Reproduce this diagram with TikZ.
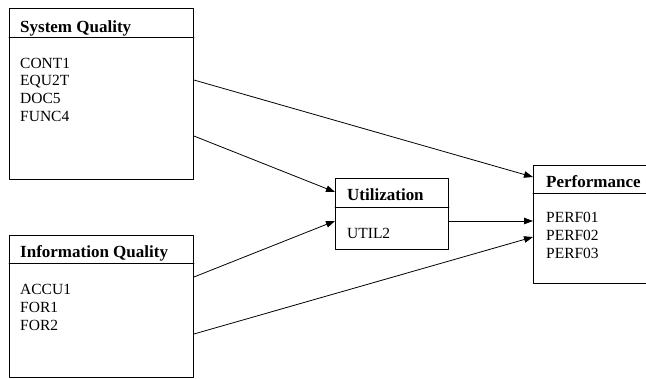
\documentclass[tikz,border=0pt]{standalone}
\usepackage{fontspec}
\setmainfont{Liberation Serif}
\usetikzlibrary{arrows.meta}
\usetikzlibrary{positioning}
\tikzset{blk/.style={draw,line width=0.9pt,inner sep=0pt,anchor=north west},
  hd/.style={anchor=base west,inner sep=0pt,font=\bfseries\fontsize{17}{20}\selectfont},
  items/.style={anchor=base west,inner sep=0pt,align=left,font=\fontsize{15.5}{17.6}\selectfont},
  lnk/.style={->,line width=0.8pt}}
\begin{document}
\begin{tikzpicture}[line cap=round,line join=round,>={Triangle[length=9pt,width=6.5pt]},x=1pt,y=-1pt]
\clip (0,0) rectangle (646,378);
\node[blk,minimum width=184pt,minimum height=171pt] (sq) at (9,8) {};
\node[blk,minimum width=184pt,minimum height=142pt] (iq) at (9,235) {};
\node[blk,minimum width=113pt,minimum height=71pt] (util) at (335,178) {};
\node[blk,minimum width=130pt,minimum height=118pt] (perf) at (533,165) {};
\draw[line width=0.9pt] ([yshift=-29pt]sq.north west) -- ([yshift=-29pt]sq.north east);
\draw[line width=0.9pt] ([yshift=-28pt]iq.north west) -- ([yshift=-28pt]iq.north east);
\draw[line width=0.9pt] ([yshift=-29pt]util.north west) -- ([yshift=-29pt]util.north east);
\draw[line width=0.9pt] ([yshift=-28pt]perf.north west) -- ([yshift=-28pt]perf.north east);
\node[hd] (sqhd) at (20,32) {System Quality};
\node[items] (sqitems) at (20,121) {CONT1\\EQU2T\\DOC5\\FUNC4};
\node[hd] (iqhd) at (20,257) {Information Quality};
\node[items] (iqitems) at (20,330) {ACCU1\\FOR1\\FOR2};
\node[hd] (utilhd) at (347,200) {Utilization};
\node[items] (utilitems) at (347,238) {UTIL2};
\node[hd] (perfhd) at (546,187) {Performance};
\node[items] (perfitems) at (546,258) {PERF01\\PERF02\\PERF03};
\draw[lnk] ([yshift=-72pt]sq.north east) -- ([yshift=-12pt]perf.north west);
\draw[lnk] ([yshift=-128pt]sq.north east) -- ([yshift=-14pt]util.north west);
\draw[lnk] ([yshift=-42pt]iq.north east) -- ([yshift=-43pt]util.north west);
\draw[lnk] ([yshift=-99pt]iq.north east) -- ([yshift=-72pt]perf.north west);
\draw[lnk] ([yshift=-43pt]util.north east) -- ([yshift=-56pt]perf.north west);
\end{tikzpicture}
\end{document}
